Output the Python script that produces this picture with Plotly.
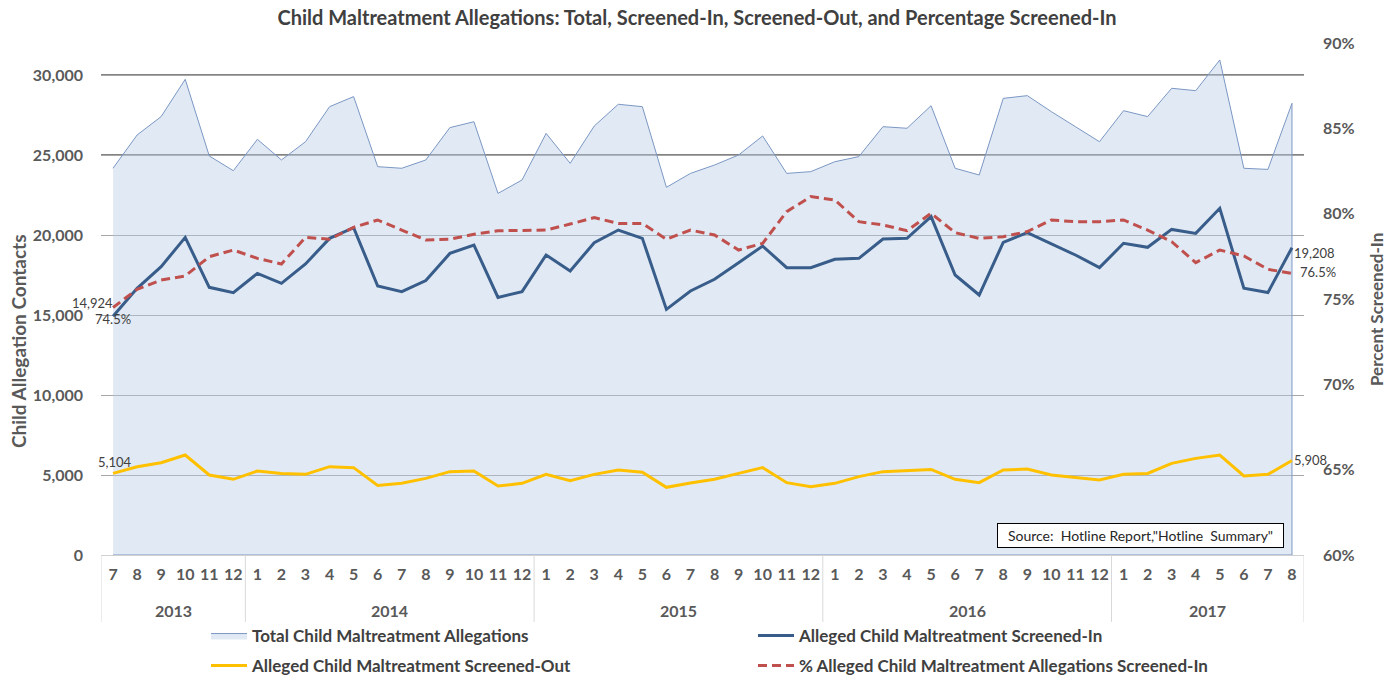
import plotly.graph_objects as go

# ---------------- data ----------------
years = ["2013"] * 6 + ["2014"] * 12 + ["2015"] * 12 + ["2016"] * 12 + ["2017"] * 8
months = (["7", "8", "9", "10", "11", "12"]
          + [str(m) for m in range(1, 13)] * 3
          + ["1", "2", "3", "4", "5", "6", "7", "8"])

total_allegations = [24170, 26250, 27400, 29730, 24940, 24020,
                     25980, 24690, 25830, 28020, 28650, 24270, 24170, 24690, 26710, 27080, 22600, 23440,
                     26350, 24480, 26810, 28170, 28020, 22980, 23850, 24375, 25000, 26190, 23850, 23960,
                     24580, 24900, 26770, 26670, 28080, 24170, 23750, 28540, 28710, 27710, 26770, 25830,
                     27770, 27400, 29170, 29020, 30940, 24170, 24100, 28230]

screened_in = [14924, 16667, 18020, 19850, 16730, 16400,
               17600, 16980, 18190, 19790, 20460, 16810, 16460, 17150, 18850, 19375, 16100, 16460,
               18750, 17750, 19520, 20310, 19790, 15350, 16500, 17230, 18270, 19310, 17960, 17960,
               18480, 18540, 19750, 19790, 21150, 17500, 16250, 19540, 20150, 19440, 18750, 17960,
               19480, 19230, 20350, 20100, 21670, 16670, 16400, 19208]

screened_out = [5104, 5520, 5770, 6250, 5000, 4730,
                5250, 5100, 5040, 5520, 5460, 4350, 4480, 4790, 5210, 5250, 4310, 4480,
                5040, 4650, 5040, 5310, 5170, 4230, 4500, 4730, 5100, 5460, 4520, 4270,
                4480, 4900, 5210, 5270, 5350, 4730, 4520, 5310, 5375, 5000, 4850, 4690,
                5040, 5100, 5730, 6040, 6250, 4940, 5040, 5908]

pct_screened_in = [74.5, 75.57, 76.11, 76.35, 77.48, 77.87,
                   77.38, 77.05, 78.61, 78.5, 79.2, 79.63, 79.04, 78.46, 78.5, 78.79, 79.0, 79.0,
                   79.04, 79.39, 79.77, 79.43, 79.43, 78.5, 79.04, 78.75, 77.87, 78.26, 80.12, 81.0,
                   80.8, 79.53, 79.34, 79.0, 80.02, 78.89, 78.55, 78.65, 78.95, 79.63, 79.53, 79.53,
                   79.63, 79.04, 78.36, 77.13, 77.87, 77.52, 76.74, 76.5]

left_ticks = [0, 5000, 10000, 15000, 20000, 25000, 30000]
right_ticks = [60, 65, 70, 75, 80, 85, 90]

# ---------------- styling ----------------
FONT = "Lato"
TICK_COLOR = "#595959"
LABEL_COLOR = "#404040"
n = len(months)
x_keys = [f"{y}-{m}" for y, m in zip(years, months)]   # unique category per month

fig = go.Figure()

# Total (closed area polygon so the left/right edges are outlined like the original)
fig.add_trace(go.Scatter(
    x=x_keys + [x_keys[-1], x_keys[0]],
    y=total_allegations + [0, 0],
    mode="lines",
    fill="toself",
    fillcolor="rgba(184,204,228,0.42)",
    line=dict(color="#7b97c4", width=1),
    name="Total Child Maltreatment Allegations",
    legend="legend",
))

fig.add_trace(go.Scatter(
    x=x_keys, y=screened_in, mode="lines",
    line=dict(color="#385d8a", width=3),
    name="Alleged Child Maltreatment Screened-In",
    legend="legend",
))

fig.add_trace(go.Scatter(
    x=x_keys, y=screened_out, mode="lines",
    line=dict(color="#ffc000", width=3),
    name="Alleged Child Maltreatment Screened-Out",
    legend="legend2",
))

fig.add_trace(go.Scatter(
    x=x_keys, y=pct_screened_in, mode="lines", yaxis="y2",
    line=dict(color="#c0504d", width=3, dash="9px,5px"),
    name="% Alleged Child Maltreatment Allegations Screened-In",
    legend="legend2",
))

# darker upper gridlines as in the original
for v in left_ticks[-2:]:
    fig.add_shape(type="line", xref="paper", yref="y", x0=0, x1=1, y0=v, y1=v,
                  line=dict(color="#595959", width=1.5), layer="between")

# year group labels and dividers of the category axis
year_names = list(dict.fromkeys(years))
annotations = []
start = 0
for yname in year_names:
    count = years.count(yname)
    end = start + count - 1
    annotations.append(dict(
        text=yname, xref="x", yref="paper", x=(start + end) / 2, y=(555 - 610) / 512,
        xanchor="center", yanchor="middle", showarrow=False,
        font=dict(family=FONT, size=16, color=TICK_COLOR, weight="bold")))
    fig.add_shape(type="line", xref="x", yref="paper", x0=start - 0.5, x1=start - 0.5,
                  y0=0, y1=(555 - 622) / 512, line=dict(color="#d9d9d9", width=1))
    start += count
fig.add_shape(type="line", xref="x", yref="paper", x0=n - 0.5, x1=n - 0.5,
              y0=0, y1=(555 - 622) / 512, line=dict(color="#d9d9d9", width=1))

# data labels at the first and last months
lab_font = dict(family=FONT, size=13, color=LABEL_COLOR)
first, last = 0, n - 1
annotations += [
    dict(text=f"{screened_in[first]:,}", xref="x", yref="y", x=first, y=screened_in[first],
         xanchor="right", yanchor="middle", yshift=13, xshift=2, showarrow=False, font=lab_font),
    dict(text=f"{pct_screened_in[first]:.1f}%", xref="x", yref="y2", x=first, y=pct_screened_in[first],
         xanchor="center", yanchor="middle", yshift=-11, xshift=0, showarrow=False, font=lab_font),
    dict(text=f"{screened_out[first]:,}", xref="x", yref="y", x=first, y=screened_out[first],
         xanchor="center", yanchor="middle", yshift=11, xshift=2, showarrow=False, font=lab_font),
    dict(text=f"{screened_in[last]:,}", xref="x", yref="y", x=last, y=screened_in[last],
         xanchor="left", yanchor="middle", yshift=-5, xshift=0, showarrow=False, font=lab_font),
    dict(text=f"{pct_screened_in[last]:.1f}%", xref="x", yref="y2", x=last, y=pct_screened_in[last],
         xanchor="left", yanchor="middle", yshift=1, xshift=6, showarrow=False, font=lab_font),
    dict(text=f"{screened_out[last]:,}", xref="x", yref="y", x=last, y=screened_out[last],
         xanchor="left", yanchor="middle", yshift=0, xshift=0, showarrow=False, font=lab_font),
]

legend_common = dict(
    orientation="h", xanchor="left", yanchor="middle", x=(206 - 101) / 1203,
    font=dict(family=FONT, size=17, color=LABEL_COLOR, weight="bold"),
    itemwidth=36, entrywidth=496, entrywidthmode="pixels", bgcolor="rgba(0,0,0,0)",
)

annotations += [
    dict(text="Child Allegation Contacts", textangle=-90, xref="paper", yref="paper",
         x=(18 - 101) / 1203, y=(555 - 341) / 512, xanchor="center", yanchor="middle",
         showarrow=False, font=dict(family=FONT, size=19, color=TICK_COLOR, weight="bold")),
    dict(text="Percent Screened-In", textangle=-90, xref="paper", yref="paper",
         x=(1376 - 101) / 1203, y=(555 - 310) / 512, xanchor="center", yanchor="middle",
         showarrow=False, font=dict(family=FONT, size=17, color=TICK_COLOR, weight="bold")),
    dict(text='Source:  Hotline Report,"Hotline  Summary"', xref="paper", yref="paper",
         x=(1140 - 101) / 1203, y=(555 - 535) / 512, xanchor="center", yanchor="middle",
         showarrow=False, width=281, height=19, bgcolor="white",
         bordercolor="#000000", borderwidth=1, borderpad=2,
         font=dict(family=FONT, size=14, color="#262626")),
]

fig.update_layout(
    width=1394, height=676,
    margin=dict(l=101, r=90, t=43, b=121, autoexpand=False),
    paper_bgcolor="white", plot_bgcolor="white",
    font=dict(family=FONT, color=TICK_COLOR),
    title=dict(
        text="Child Maltreatment Allegations: Total, Screened-In, Screened-Out, and Percentage Screened-In",
        x=0.5, xanchor="center", y=1 - 18 / 676, yanchor="middle",
        font=dict(family=FONT, size=20, color=LABEL_COLOR, weight="bold"),
    ),
    xaxis=dict(
        type="category", categoryorder="array", categoryarray=x_keys,
        range=[-0.5, n - 0.5],
        tickvals=x_keys, ticktext=months, tickangle=0,
        tickfont=dict(family=FONT, size=16, color=TICK_COLOR, weight="bold"),
        showline=True, linecolor="#d0d0d0", linewidth=1,
        showgrid=False, ticks="", ticklabelstandoff=5, automargin=False,
    ),
    yaxis=dict(
        range=[0, 32000], tickvals=left_ticks, tickformat=",",
        tickfont=dict(family=FONT, size=16, color=TICK_COLOR, weight="bold"),
        showgrid=True, gridcolor="#a6a6a6", gridwidth=1,
        zeroline=False, showline=False, ticks="",
        ticklabelstandoff=17, automargin=False,
    ),
    yaxis2=dict(
        range=[60, 90], tickvals=right_ticks, ticktext=[f"{v}%" for v in right_ticks],
        overlaying="y", side="right",
        tickfont=dict(family=FONT, size=16, color=TICK_COLOR, weight="bold"),
        showgrid=False, zeroline=False, showline=False, ticks="",
        ticklabelstandoff=18, automargin=False,
    ),
    legend=dict(y=(555 - 636) / 512, **legend_common),
    legend2=dict(y=(555 - 666) / 512, **legend_common),
    annotations=annotations,
    showlegend=True,
)

fig.write_html("out.html", config={"displayModeBar": False},
               post_script="document.body.style.margin='0';")
